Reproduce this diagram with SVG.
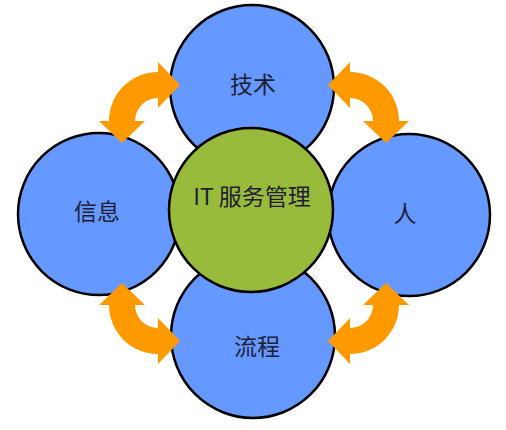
<svg xmlns="http://www.w3.org/2000/svg" width="506" height="430" viewBox="0 0 506 430">
  <defs>
    <style>
      .blue { fill: #6699ff; stroke: #000; stroke-width: 2.5; }
      .green { fill: #99bb3b; stroke: #000; stroke-width: 2.5; }
      .lbl { font-family: "Noto Sans CJK SC", "Noto Sans", sans-serif; font-size: 23px; fill: #1e2036; text-anchor: middle; dominant-baseline: central; }
      .arrow { fill: #ff9900; stroke: none; }
    </style>
    <path id="carrow" d="M -49 0 L -59 0 L -36 22 L -13 0 L -23 0 A 23 23 0 0 1 0 -23 L 0 -13 L 22 -36 L 0 -59 L 0 -49 A 49 49 0 0 0 -49 0 Z"/>
  </defs>
  <g id="node-top">
    <circle class="blue" cx="252" cy="87" r="82"/>
    <text class="lbl" x="253" y="83">技术</text>
  </g>
  <g id="node-left">
    <circle class="blue" cx="99" cy="214" r="81"/>
    <text class="lbl" x="97" y="210">信息</text>
  </g>
  <g id="node-right">
    <circle class="blue" cx="409" cy="215" r="81"/>
    <text class="lbl" x="405" y="212">人</text>
  </g>
  <g id="node-bottom">
    <circle class="blue" cx="253" cy="336" r="82"/>
    <text class="lbl" x="257" y="345">流程</text>
  </g>
  <g id="node-center">
    <circle class="green" cx="251" cy="210" r="82"/>
    <text class="lbl" x="252" y="195">IT 服务管理</text>
  </g>
  <g id="connectors" class="arrow">
    <use href="#carrow" transform="translate(158,121)"/>
    <use href="#carrow" transform="translate(350,121) scale(-1,1)"/>
    <use href="#carrow" transform="translate(158,305) scale(1,-1)"/>
    <use href="#carrow" transform="translate(350,305) scale(-1,-1)"/>
  </g>
</svg>
